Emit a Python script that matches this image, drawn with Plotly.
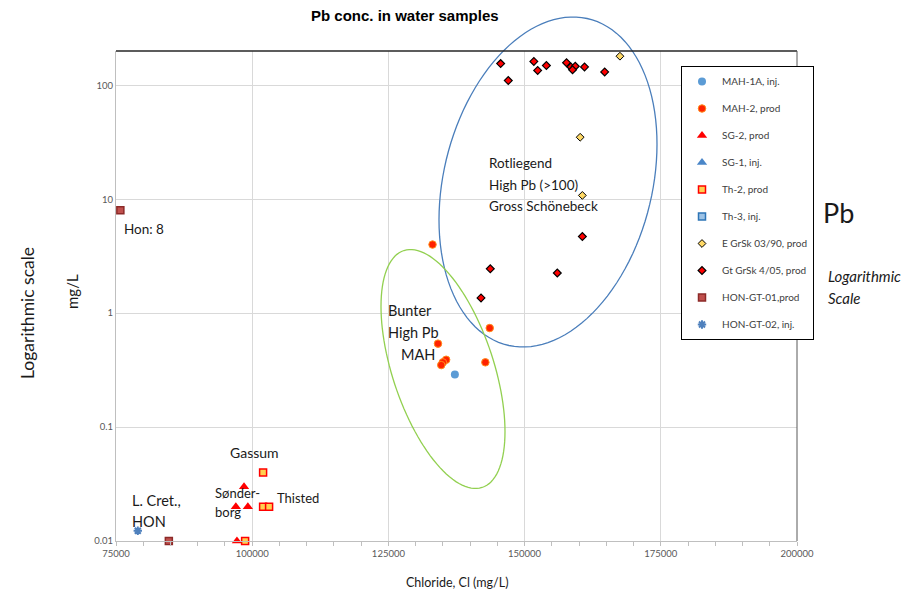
import numpy as np
import plotly.graph_objects as go

# ---------------- data ----------------
mah1a_cl = [137200]
mah1a_pb = [0.29]
mah2_cl = [133100, 143600, 134100, 135600, 135000, 134700, 142800]
mah2_pb = [4.0, 0.74, 0.54, 0.39, 0.37, 0.35, 0.37]
sg2_cl = [97200, 98500, 97000, 99200]
sg2_pb = [0.01, 0.03, 0.02, 0.02]
sg1_cl = [None]
sg1_pb = [None]
th2_cl = [98700, 102000, 102000, 103100]
th2_pb = [0.01, 0.04, 0.02, 0.02]
th3_cl = [None]
th3_pb = [None]
egrsk_cl = [160200, 160600, 167500]
egrsk_pb = [35, 10.8, 180]
gtgrsk_cl = [143700, 142000, 160600, 156000, 145600, 147000, 151700, 152400,
             154000, 157700, 158500, 159300, 158800, 161000, 164700]
gtgrsk_pb = [2.45, 1.36, 4.7, 2.25, 155, 110, 162, 135,
             149, 158, 145, 147, 137, 145, 131]
hon1_cl = [75800, 84700]
hon1_pb = [8, 0.01]
hon2_cl = [79000]
hon2_pb = [0.0123]

x_ticks = [75000, 100000, 125000, 150000, 175000, 200000]
y_ticks = [0.01, 0.1, 1, 10, 100]
y_ticktext = ["0.01", "0.1", "1", "10", "100"]

# ---------------- figure ----------------
W, H = 916, 597
OFF = 8  # page body margin
L, R, T, B = 116, 797, 51, 541          # target plot box on screen
PW, PH = R - L, B - T

fig = go.Figure()

def add(name, xs, ys, symbol, size, color, lcolor, lwidth, group):
    fig.add_trace(go.Scatter(
        x=xs, y=ys, mode="markers", name=name, legendgroup=group,
        cliponaxis=False,
        marker=dict(symbol=symbol, size=size, color=color,
                    line=dict(color=lcolor, width=lwidth)),
    ))

add("MAH-1A, inj.", mah1a_cl, mah1a_pb, "circle", 8, "#5B9BD5", "#5B9BD5", 0, "g1")
add("MAH-2, prod", mah2_cl, mah2_pb, "circle", 7.5, "#FF2200", "#FF8C1A", 1, "g2")
add("SG-2, prod", sg2_cl, sg2_pb, "triangle-up", 9, "#FF0000", "#FF0000", 0, "g3")
add("SG-1, inj.", sg1_cl, sg1_pb, "triangle-up", 9, "#4A86C8", "#4A86C8", 0, "g4")
add("Th-2, prod", th2_cl, th2_pb, "square", 7, "#FFD050", "#FF0000", 1.5, "g5")
add("Th-3, inj.", th3_cl, th3_pb, "square", 7, "#9DC3E6", "#2E75B6", 1.5, "g6")
add("E GrSk 03/90, prod", egrsk_cl, egrsk_pb, "diamond", 6, "#FFD966", "#000000", 1, "g7")
add("Gt GrSk 4/05, prod", gtgrsk_cl, gtgrsk_pb, "diamond", 6, "#FF0000", "#000000", 1.2, "g8")
add("HON-GT-01,prod", hon1_cl, hon1_pb, "square", 7, "#C0504D", "#8C2A28", 1.5, "g9")
add("HON-GT-02, inj.", hon2_cl, hon2_pb, "asterisk-open", 7, "#4F81BD", "#4F81BD", 2, "g10")

def px2paper(px, py):
    return (px - L) / PW, (B - py) / PH

def ellipse_path(cx, cy, hw, hh, sxy, n=120):
    l21 = sxy / hw
    l22 = np.sqrt(hh ** 2 - l21 ** 2)
    t = np.linspace(0, 2 * np.pi, n, endpoint=False)
    xs = cx + hw * np.cos(t)
    ys = cy + l21 * np.cos(t) + l22 * np.sin(t)
    pts = [px2paper(a, b) for a, b in zip(xs, ys)]
    return "M " + " L ".join(f"{a:.5f},{b:.5f}" for a, b in pts) + " Z"

shapes = [
    dict(type="path", xref="paper", yref="paper",
         path=ellipse_path(548, 182, 109, 165, -4125),
         line=dict(color="#4A7EBB", width=1.3), layer="above"),
    dict(type="path", xref="paper", yref="paper",
         path=ellipse_path(443, 369, 62, 119.5, 3880),
         line=dict(color="#92D050", width=1.3), layer="above"),
    dict(type="line", xref="paper", yref="paper", x0=0, x1=1, y0=1, y1=1,
         line=dict(color="#262626", width=1.3)),
    dict(type="line", xref="paper", yref="paper", x0=1, x1=1, y0=0, y1=1,
         line=dict(color="#595959", width=1)),
]

txt_font = dict(family="Lato, Calibri, sans-serif", size=14, color="#1a1a1a")

def ann(text, px, py, xanchor="left", size=14, font=None, **kw):
    xp, yp = px2paper(px, py)
    f = dict(txt_font)
    f["size"] = size
    if font:
        f.update(font)
    d = dict(text=text, x=xp, y=yp, xref="paper", yref="paper",
             xanchor=xanchor, yanchor="middle", showarrow=False, font=f)
    d.update(kw)
    return d

annotations = [
    ann("<b>Pb conc. in water samples</b>", 405, 15, xanchor="center", size=15,
        font=dict(family="Liberation Sans Narrow, Arial Narrow, Liberation Sans, sans-serif", color="#000000")),
    ann("Hon: 8", 122, 229, size=13.5),
    ann("Gassum", 254, 452, xanchor="center", size=14),
    ann("Sønder-", 213, 493, size=13),
    ann("borg", 213, 512, size=13),
    ann("Thisted", 275, 498, size=13),
    ann("L. Cret.,", 130, 500, size=14.5),
    ann("HON", 130, 521, size=14.5),
    ann("Bunter", 410, 311, xanchor="center", size=14.5),
    ann("High Pb", 413, 332, xanchor="center", size=14.5),
    ann("MAH", 418, 354, xanchor="center", size=14.5),
    ann("Rotliegend", 487, 163, size=13.5),
    ann("High Pb (>100)", 487, 184.5, size=13.5),
    ann("Gross Schönebeck", 487, 206, size=13.5),
    ann("Chloride, Cl (mg/L)", 457, 582, xanchor="center", size=12.5),
    ann("mg/L", 72, 292, xanchor="center", size=15, textangle=-90),
    ann("Logarithmic scale", 27, 313, xanchor="center", size=17.5, textangle=-90),
    ann("Pb", 821, 213, size=27),
    ann("<i>Logarithmic</i>", 826, 276, size=15),
    ann("<i>Scale</i>", 826, 298, size=15),
]

tick_font = dict(family="Lato, Calibri, sans-serif", size=9.5, color="#595959")

ml, mt = L - OFF, T - OFF
fig.update_layout(
    width=W, height=H,
    margin=dict(l=ml, r=W - ml - PW, t=mt, b=H - mt - PH, autoexpand=False),
    paper_bgcolor="white", plot_bgcolor="white",
    showlegend=True,
    legend=dict(
        x=(681 - L) / PW, y=(B - 66) / PH, xanchor="left", yanchor="top",
        bgcolor="white", bordercolor="#000000", borderwidth=1,
        font=dict(family="Lato, Calibri, sans-serif", size=10, color="#404040"),
        tracegroupgap=8, itemwidth=30,
    ),
    xaxis=dict(
        range=[75000, 200000], tickvals=x_ticks, ticktext=[str(v) for v in x_ticks],
        showgrid=True, gridcolor="#D9D9D9", gridwidth=1,
        showline=True, linecolor="#BFBFBF", linewidth=1,
        ticks="outside", ticklen=4, tickcolor="#BFBFBF",
        minor=dict(dtick=5000, ticks="outside", ticklen=4, tickcolor="#BFBFBF", showgrid=False),
        tickfont=tick_font, zeroline=False,
    ),
    yaxis=dict(
        type="log", range=[-2, np.log10(200)],
        tickvals=y_ticks, ticktext=y_ticktext,
        showgrid=True, gridcolor="#D9D9D9", gridwidth=1,
        showline=True, linecolor="#BFBFBF", linewidth=1,
        ticks="", tickfont=tick_font, zeroline=False,
    ),
    shapes=shapes,
    annotations=annotations,
)

fig.write_html("out.html")
